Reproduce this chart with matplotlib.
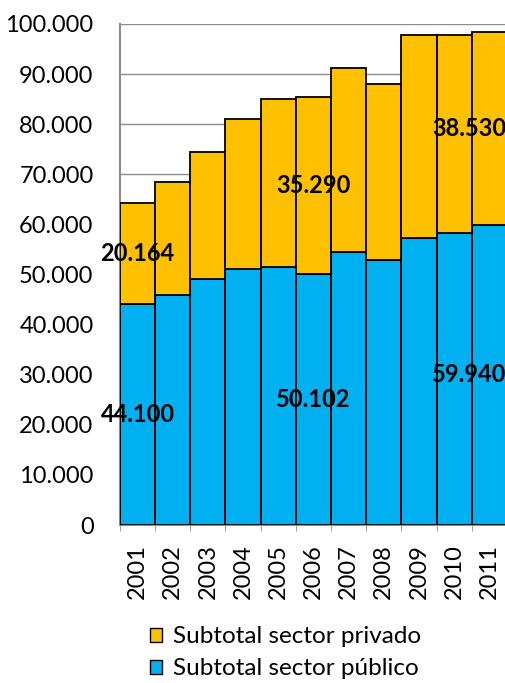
import matplotlib
matplotlib.use("Agg")
import matplotlib.pyplot as plt
from matplotlib.patches import Patch
from matplotlib.ticker import FuncFormatter, MultipleLocator

years = ["2001", "2002", "2003", "2004", "2005", "2006", "2007", "2008", "2009", "2010", "2011"]
publico = [44100, 46000, 49100, 51100, 51400, 50102, 54500, 52800, 57300, 58200, 59940]
privado = [20164, 22500, 25300, 30000, 33600, 35290, 36800, 35300, 40500, 39600, 38530]
labeled = [0, 5, 10]

FONT = "Lato"
plt.rcParams["font.family"] = [FONT, "DejaVu Sans"]

fig = plt.figure(figsize=(5.06, 6.83), dpi=100)
ax = fig.add_axes([0.237, 0.2313, 0.765, 0.7336])

x = list(range(len(years)))
c_pub = "#00B0F0"
c_priv = "#FFC000"
ax.bar(x, publico, width=1.0, color=c_pub, edgecolor="black", linewidth=1.3, zorder=3)
ax.bar(x, privado, bottom=publico, width=1.0, color=c_priv, edgecolor="black", linewidth=1.3, zorder=3)

def fmt(v):
    return f"{v:,.0f}".replace(",", ".")

last = len(years) - 1
for i in labeled:
    if i == last:
        # the last bar's labels run to the right edge of the figure, as in the reference
        for yv, val in [(publico[i] / 2, publico[i]), (publico[i] + privado[i] / 2, privado[i])]:
            ax.annotate(fmt(val), xy=(1.0, yv), xycoords=("figure fraction", "data"),
                        ha="right", va="center", fontsize=17, fontweight="bold",
                        zorder=5, annotation_clip=False)
        continue
    ax.text(i, publico[i] / 2, fmt(publico[i]), ha="center", va="center",
            fontsize=17, fontweight="bold", zorder=5, clip_on=False)
    ax.text(i, publico[i] + privado[i] / 2, fmt(privado[i]), ha="center", va="center",
            fontsize=17, fontweight="bold", zorder=5, clip_on=False)

ax.set_xlim(-0.5, len(years) - 0.5)
ax.set_ylim(0, 100000)
ax.yaxis.set_major_locator(MultipleLocator(10000))
ax.yaxis.set_major_formatter(FuncFormatter(lambda v, p: fmt(v)))
ax.grid(axis="y", color="#8c8c8c", linewidth=1.0, zorder=0)
ax.set_axisbelow(True)

ax.set_xticks(x)
ax.set_xticklabels(years, rotation=90, fontsize=17)
ax.set_xticks([i - 0.5 for i in range(len(years) + 1)], minor=True)
ax.tick_params(axis="x", which="major", length=0, pad=14)
ax.tick_params(axis="x", which="minor", length=4, color="#8c8c8c")
ax.tick_params(axis="y", length=0, labelsize=17, pad=19)

for s in ["top", "right"]:
    ax.spines[s].set_visible(False)
for s in ["left", "bottom"]:
    ax.spines[s].set_color("#8c8c8c")
    ax.spines[s].set_linewidth(1.5)

handles = [Patch(facecolor=c_priv, edgecolor="black", label="Subtotal sector privado"),
           Patch(facecolor=c_pub, edgecolor="black", label="Subtotal sector público")]
fig.legend(handles=handles, loc="upper left", bbox_to_anchor=(0.296, 0.083), frameon=False,
           fontsize=17.5, handlelength=0.5, handleheight=0.5, handletextpad=0.45,
           labelspacing=0.45, borderaxespad=0, borderpad=0)

fig.savefig("out.png", dpi=100)
